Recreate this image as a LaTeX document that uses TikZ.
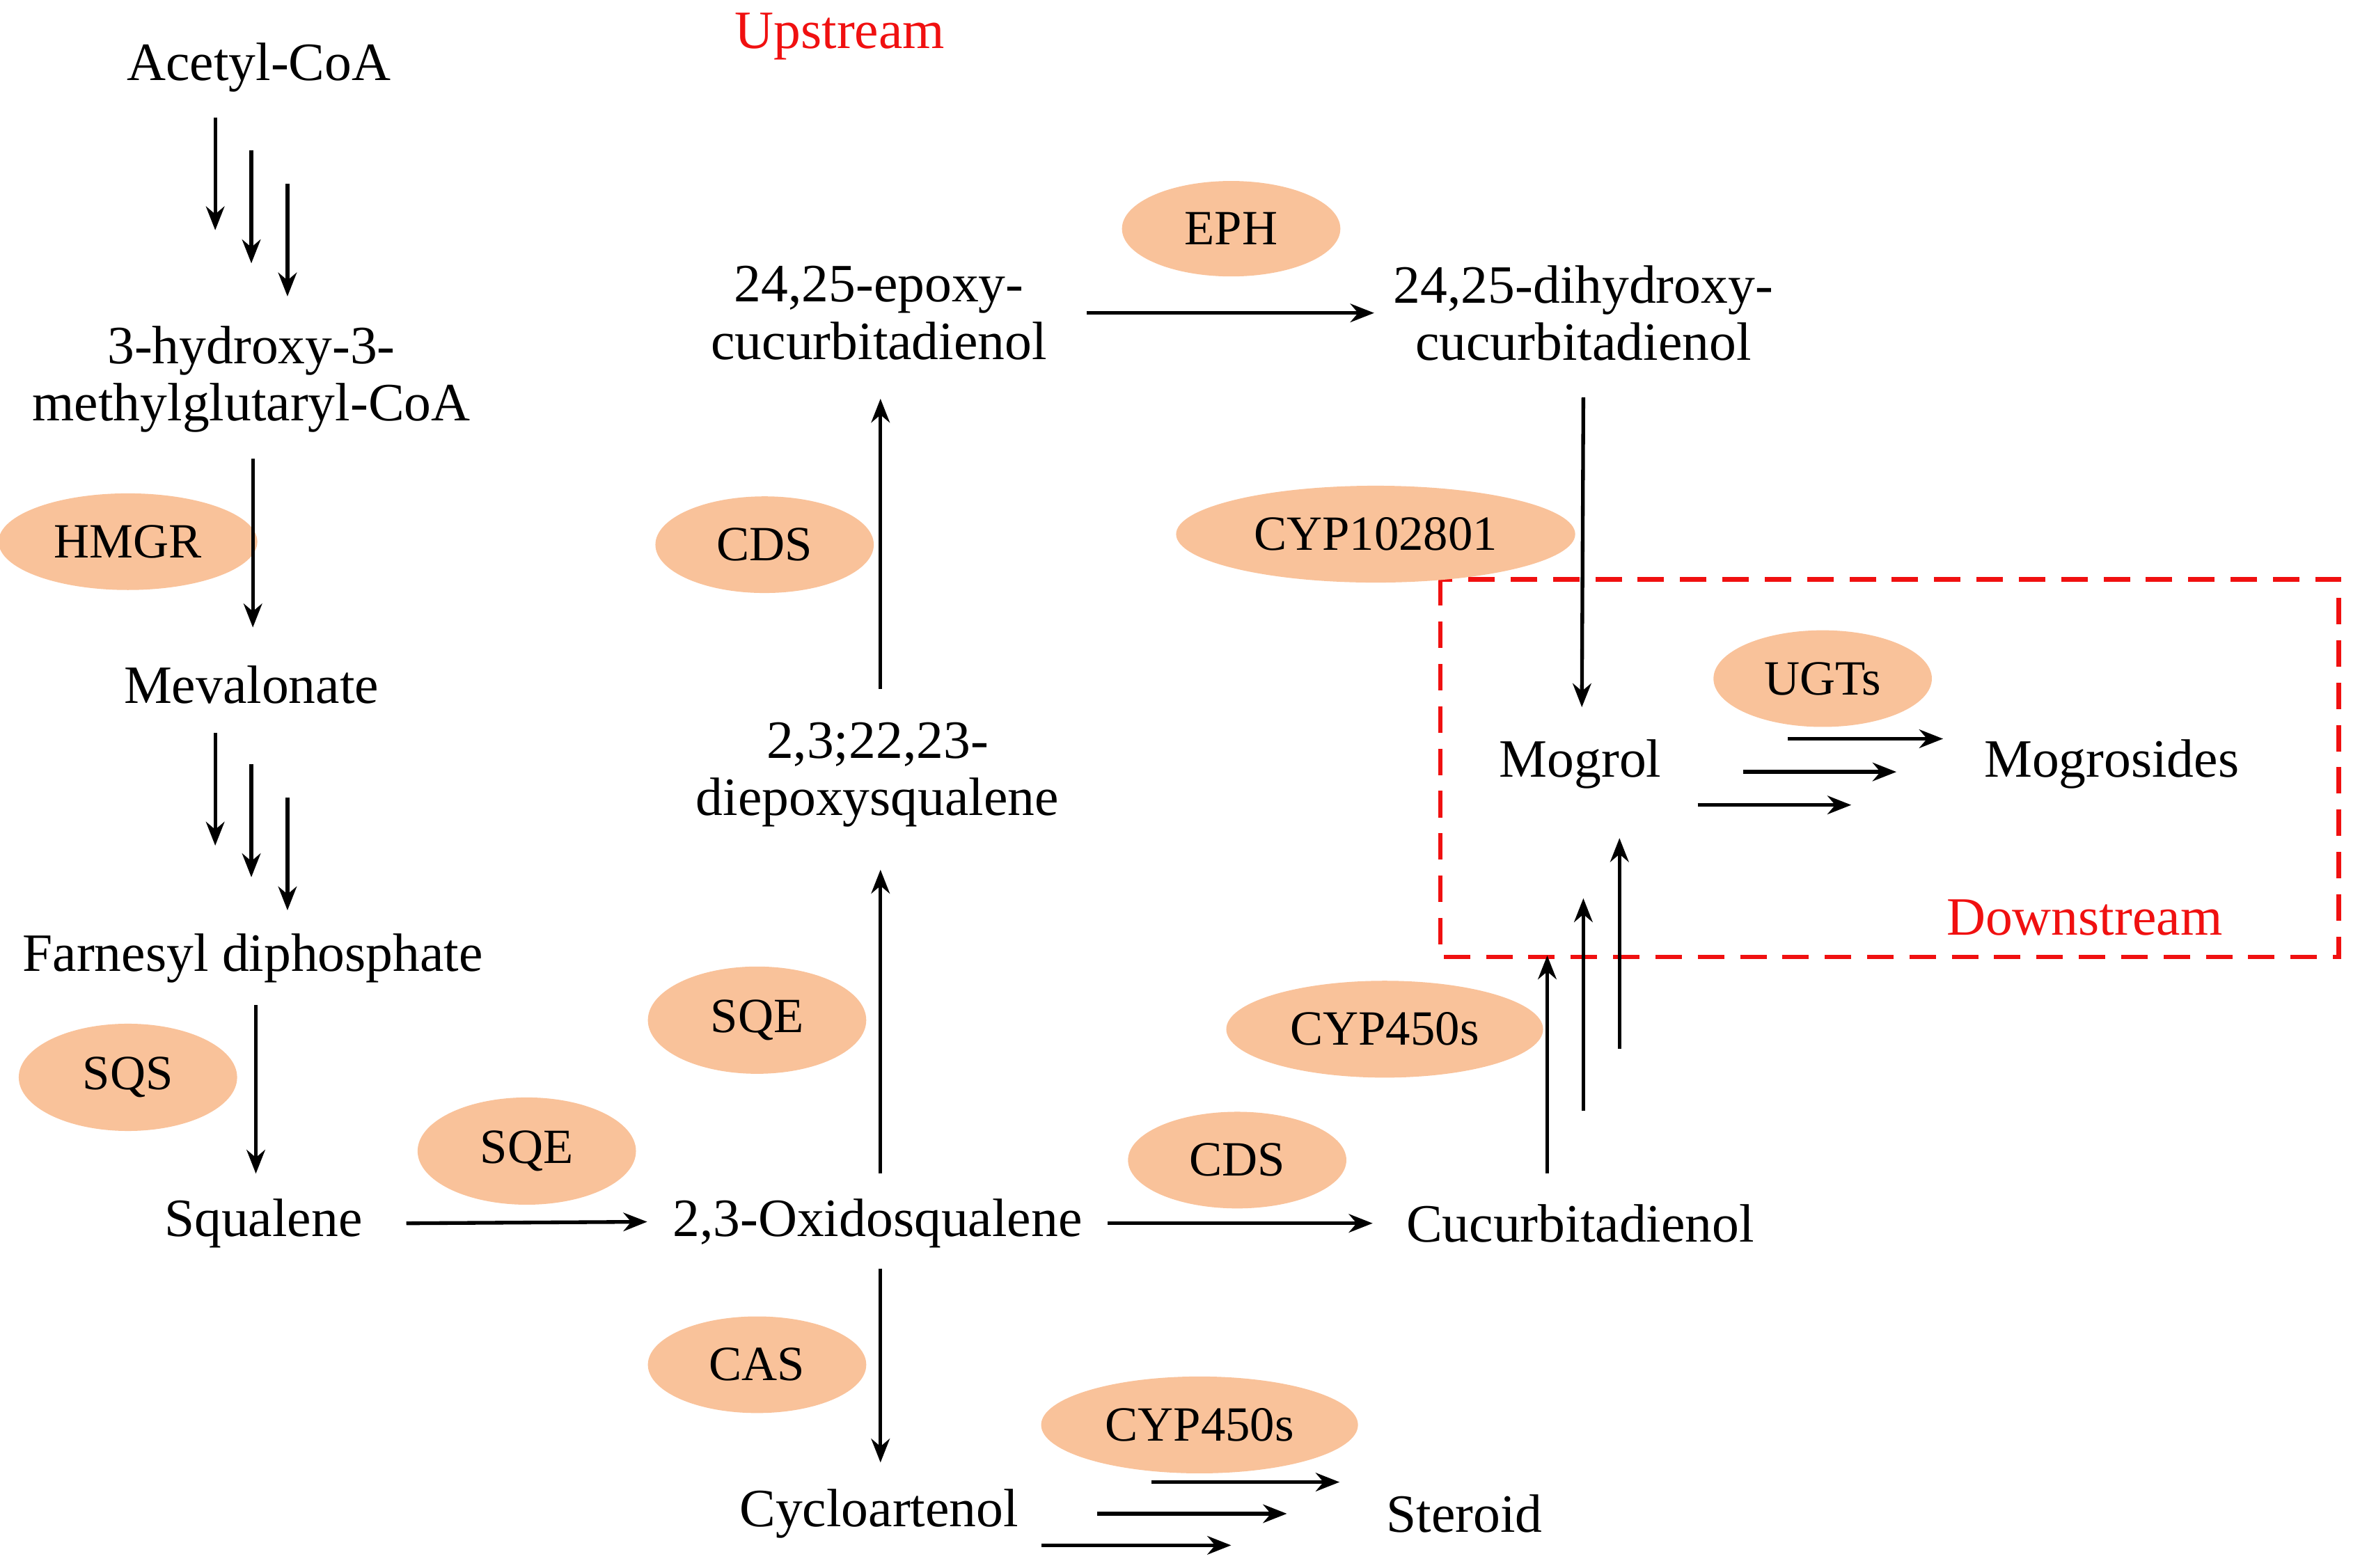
\documentclass[tikz,border=0pt]{standalone}
\usepackage{fontspec}
\setmainfont{Liberation Serif}
\usetikzlibrary{arrows.meta}
\definecolor{peach}{HTML}{F9C29A}
\definecolor{rd}{HTML}{F01010}
\begin{document}
\begin{tikzpicture}[x=0.01cm,y=-0.01cm,
  lbl/.style={align=center,font=\fontsize{10.2}{10.8}\selectfont,inner sep=1pt},
  enz/.style={ellipse,fill=peach,minimum height=0.56cm,font=\fontsize{9.3}{10}\selectfont},
  arr/.style={-{Stealth[length=4.5pt,width=3.5pt]},line width=0.7pt},
  red/.style={text=rd,font=\fontsize{10.2}{11}\selectfont}]
\usetikzlibrary{shapes.geometric}
\useasboundingbox (0,0) rectangle (1568,1042);
\node[lbl] (acetyl) at (172,45) {Acetyl-CoA};
\node[lbl] (hmg) at (167,252) {3-hydroxy-3-\\methylglutaryl-CoA};
\node[lbl] (mev) at (167,455) {Mevalonate};
\node[lbl] (farn) at (168,637) {Farnesyl diphosphate};
\node[lbl] (squal) at (175,813) {Squalene};
\node[lbl] (oxido) at (583,813) {2,3-Oxidosqualene};
\node[lbl] (cucurb) at (1050,813) {Cucurbitadienol};
\node[lbl] (cyclo) at (584,1006) {Cycloartenol};
\node[lbl] (steroid) at (973,1006) {Steroid};
\node[lbl] (diep) at (583,515) {2,3;22,23-\\diepoxysqualene};
\node[lbl] (epoxy) at (584,208) {24,25-epoxy-\\cucurbitadienol};
\node[lbl] (dihyd) at (1052,208) {24,25-dihydroxy-\\cucurbitadienol};
\node[lbl] (mogrol) at (1050,508) {Mogrol};
\node[lbl] (mogros) at (1403,508) {Mogrosides};
\node[red] (up) at (558,24) {Upstream};
\node[red] (down) at (1385,610) {Downstream};
\draw[rd,dashed,line width=0.9pt,dash pattern=on 5pt off 3pt] (957,385) rectangle (1554,636);
\node[enz,minimum width=1.45cm] (e1) at (85,360) {HMGR};
\node[enz,minimum width=1.45cm] (e2) at (85,716) {SQS};
\node[enz,minimum width=1.45cm] (e3) at (350,765) {SQE};
\node[enz,minimum width=1.45cm] (e4) at (503,678) {SQE};
\node[enz,minimum width=1.45cm] (e5) at (508,362) {CDS};
\node[enz,minimum width=1.45cm] (e6) at (503,907) {CAS};
\node[enz,minimum width=1.85cm] (e7) at (797,947) {CYP450s};
\node[enz,minimum width=1.45cm] (e8) at (822,771) {CDS};
\node[enz,minimum width=2.0cm] (e9) at (920,684) {CYP450s};
\node[enz,minimum width=2.65cm] (e10) at (914,355) {CYP102801};
\node[enz,minimum width=1.45cm] (e11) at (818,152) {EPH};
\node[enz,minimum width=1.45cm] (e12) at (1211,451) {UGTs};
% triple arrows
\foreach \x/\a/\b in {143/78/153,167/100/175,191/122/197,143/487/562,167/508/583,191/530/605}
  \draw[arr] (\x,\a) -- (\x,\b);
\foreach \x/\a/\b in {1028/780/635,1052/738/597,1076/697/557}
  \draw[arr] (\x,\a) -- (\x,\b);
\foreach \y/\a/\b in {491/1188/1291,513/1158/1260,535/1128/1230,985/765/890,1006/729/855,1027/692/818}
  \draw[arr] (\a,\y) -- (\b,\y);
\draw[arr] (168,305) -- (168,417);
\draw[arr] (170,668) -- (170,780);
\draw[arr] (270,813) -- (430,812);
\draw[arr] (736,813) -- (912,813);
\draw[arr] (585,843) -- (585,972);
\draw[arr] (585,780) -- (585,578);
\draw[arr] (585,458) -- (585,265);
\draw[arr] (722,208) -- (913,208);
\draw[arr] (1052,264) -- (1051,470);
\end{tikzpicture}
\end{document}
